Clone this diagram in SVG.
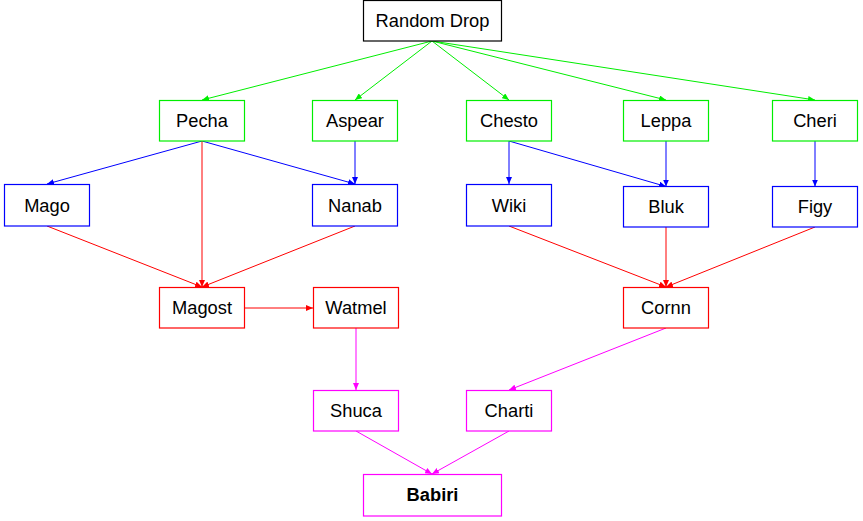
<svg xmlns="http://www.w3.org/2000/svg" width="863" height="521" viewBox="0 0 863 521">
<style>
text{font-family:"Liberation Sans",Arial,sans-serif;font-size:18.3px;fill:#000;text-anchor:middle}
rect{fill:#fff;stroke-width:1.2}
.k rect{stroke:#000}
.g rect{stroke:#00ee00}
.b rect{stroke:#0000ff}
.r rect{stroke:#ff0000}
.m rect{stroke:#ff00ff}
#edges line{stroke-width:1;fill:none}
.eg{stroke:#00ee00;marker-end:url(#ag)}
.eb{stroke:#0000ff;marker-end:url(#ab)}
.er{stroke:#ff0000;marker-end:url(#ar)}
.em{stroke:#ff00ff;marker-end:url(#am)}
</style>
<defs>
<marker id="ag" markerUnits="userSpaceOnUse" markerWidth="8" markerHeight="6" refX="7" refY="3" orient="auto"><path d="M0,0 L7,3 L0,6 z" fill="#00ee00"/></marker>
<marker id="ab" markerUnits="userSpaceOnUse" markerWidth="8" markerHeight="6" refX="7" refY="3" orient="auto"><path d="M0,0 L7,3 L0,6 z" fill="#0000ff"/></marker>
<marker id="ar" markerUnits="userSpaceOnUse" markerWidth="8" markerHeight="6" refX="7" refY="3" orient="auto"><path d="M0,0 L7,3 L0,6 z" fill="#ff0000"/></marker>
<marker id="am" markerUnits="userSpaceOnUse" markerWidth="8" markerHeight="6" refX="7" refY="3" orient="auto"><path d="M0,0 L7,3 L0,6 z" fill="#ff00ff"/></marker>
</defs>
<rect x="0" y="0" width="863" height="521" style="fill:#fff;stroke:none"/>
<g id="edges">
<line class="eg" x1="432" y1="41" x2="202" y2="100"/>
<line class="eg" x1="432" y1="41" x2="355" y2="100"/>
<line class="eg" x1="432" y1="41" x2="509" y2="100"/>
<line class="eg" x1="432" y1="41" x2="666" y2="100"/>
<line class="eg" x1="432" y1="41" x2="815" y2="100"/>
<line class="eb" x1="202" y1="141" x2="47" y2="184"/>
<line class="eb" x1="202" y1="141" x2="355" y2="184"/>
<line class="eb" x1="355" y1="141" x2="355" y2="184"/>
<line class="eb" x1="509" y1="141" x2="509" y2="184"/>
<line class="eb" x1="509" y1="141" x2="666" y2="186.5"/>
<line class="eb" x1="666" y1="141" x2="666" y2="186.5"/>
<line class="eb" x1="815" y1="141" x2="815" y2="186.5"/>
<line class="er" x1="202" y1="141" x2="202" y2="287"/>
<line class="er" x1="47" y1="226" x2="202" y2="287"/>
<line class="er" x1="355" y1="226" x2="202" y2="287"/>
<line class="er" x1="244.5" y1="308" x2="313" y2="308"/>
<line class="er" x1="509" y1="226" x2="666" y2="287"/>
<line class="er" x1="666" y1="227" x2="666" y2="287"/>
<line class="er" x1="815" y1="227" x2="666" y2="287"/>
<line class="em" x1="356" y1="328" x2="356" y2="390"/>
<line class="em" x1="666" y1="328" x2="509" y2="390"/>
<line class="em" x1="356" y1="431" x2="432" y2="474"/>
<line class="em" x1="509" y1="431" x2="432" y2="474"/>
</g>
<g id="random-drop" class="k"><rect x="363.5" y="0.5" width="138" height="40.5"/><text x="432.5" y="27">Random Drop</text></g>
<g id="pecha" class="g"><rect x="159.5" y="100.5" width="85" height="40.5"/><text x="202" y="127">Pecha</text></g>
<g id="aspear" class="g"><rect x="312.5" y="100.5" width="85" height="40.5"/><text x="355" y="127">Aspear</text></g>
<g id="chesto" class="g"><rect x="466.5" y="100.5" width="85" height="40.5"/><text x="509" y="127">Chesto</text></g>
<g id="leppa" class="g"><rect x="623.5" y="100.5" width="85" height="40.5"/><text x="666" y="127">Leppa</text></g>
<g id="cheri" class="g"><rect x="772.5" y="100.5" width="85" height="40.5"/><text x="815" y="127">Cheri</text></g>
<g id="mago" class="b"><rect x="4.5" y="184.5" width="85" height="41.5"/><text x="47" y="212">Mago</text></g>
<g id="nanab" class="b"><rect x="312.5" y="184.5" width="85" height="41.5"/><text x="355" y="212">Nanab</text></g>
<g id="wiki" class="b"><rect x="466.5" y="184.5" width="85" height="41.5"/><text x="509" y="212">Wiki</text></g>
<g id="bluk" class="b"><rect x="623.5" y="186.5" width="85" height="40.5"/><text x="666" y="213">Bluk</text></g>
<g id="figy" class="b"><rect x="772.5" y="186.5" width="85" height="40.5"/><text x="815" y="213">Figy</text></g>
<g id="magost" class="r"><rect x="159.5" y="287.5" width="85" height="40.5"/><text x="202" y="314">Magost</text></g>
<g id="watmel" class="r"><rect x="313.5" y="287.5" width="85" height="40.5"/><text x="356" y="314">Watmel</text></g>
<g id="cornn" class="r"><rect x="623.5" y="287.5" width="85" height="40.5"/><text x="666" y="314">Cornn</text></g>
<g id="shuca" class="m"><rect x="313.5" y="390.5" width="85" height="40.5"/><text x="356" y="417">Shuca</text></g>
<g id="charti" class="m"><rect x="466.5" y="390.5" width="85" height="40.5"/><text x="509" y="417">Charti</text></g>
<g id="babiri" class="m"><rect x="363.5" y="474.5" width="138" height="41.5"/><text x="432.5" y="501" style="font-weight:bold">Babiri</text></g>
</svg>
